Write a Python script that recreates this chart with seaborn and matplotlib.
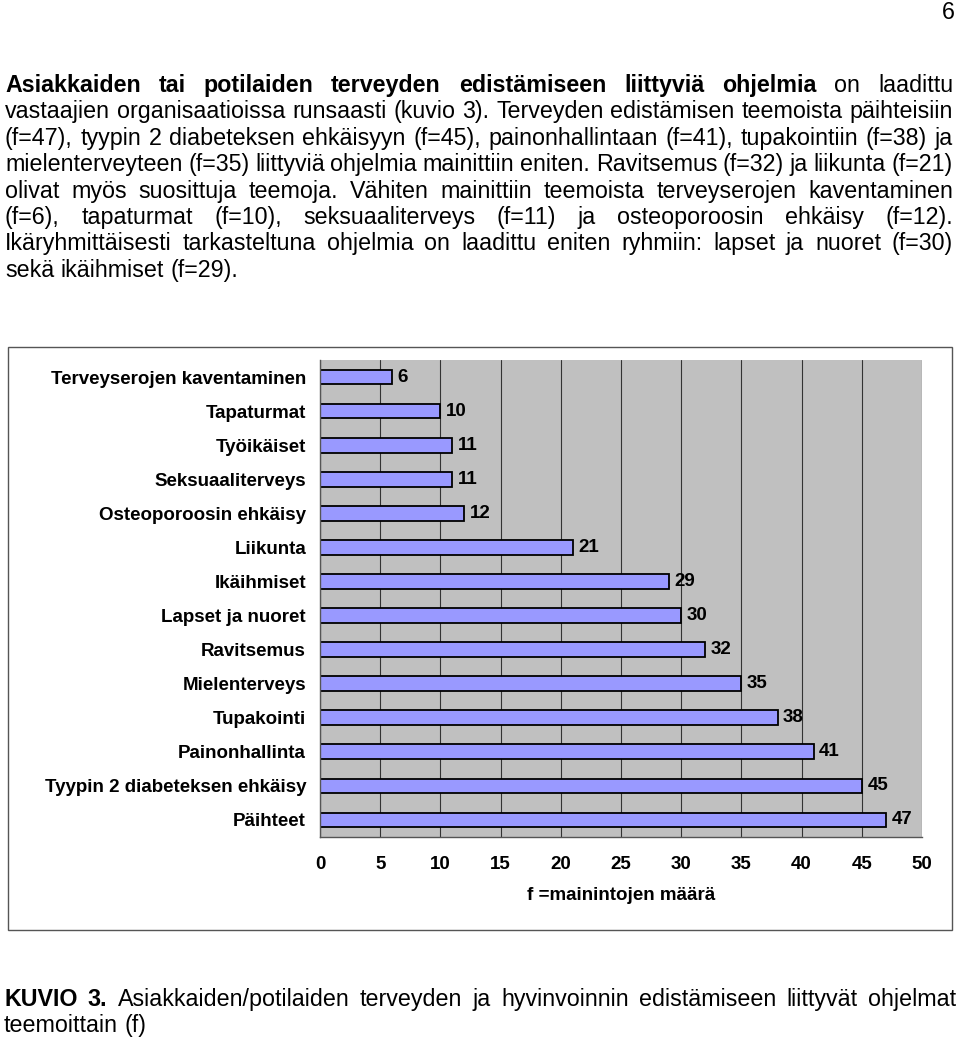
import matplotlib
matplotlib.use("Agg")
import matplotlib.pyplot as plt
import seaborn as sns
import pandas as pd
from matplotlib.patches import Rectangle
from matplotlib.ticker import MultipleLocator

# Chart data (order top -> bottom as in the figure)
themes = [
    "Terveyserojen kaventaminen", "Tapaturmat", "Työikäiset", "Seksuaaliterveys",
    "Osteoporoosin ehkäisy", "Liikunta", "Ikäihmiset", "Lapset ja nuoret",
    "Ravitsemus", "Mielenterveys", "Tupakointi", "Painonhallinta",
    "Tyypin 2 diabeteksen ehkäisy", "Päihteet",
]
counts = [6, 10, 11, 11, 12, 21, 29, 30, 32, 35, 38, 41, 45, 47]
x_ticks = [0, 5, 10, 15, 20, 25, 30, 35, 40, 45, 50]
x_label = "f =mainintojen määrä"

# Page text, line by line; (words, bold)
paragraph_lines = [
    [("Asiakkaiden tai potilaiden terveyden edistämiseen liittyviä ohjelmia", True),
     ("on laadittu", False)],
    [("vastaajien organisaatioissa runsaasti (kuvio 3). Terveyden edistämisen teemoista päihteisiin", False)],
    [("(f=47), tyypin 2 diabeteksen ehkäisyyn (f=45), painonhallintaan (f=41), tupakointiin (f=38) ja", False)],
    [("mielenterveyteen (f=35) liittyviä ohjelmia mainittiin eniten. Ravitsemus (f=32) ja liikunta (f=21)", False)],
    [("olivat myös suosittuja teemoja. Vähiten mainittiin teemoista terveyserojen kaventaminen", False)],
    [("(f=6), tapaturmat (f=10), seksuaaliterveys (f=11) ja osteoporoosin ehkäisy (f=12).", False)],
    [("Ikäryhmittäisesti tarkasteltuna ohjelmia on laadittu eniten ryhmiin: lapset ja nuoret (f=30)", False)],
    [("sekä ikäihmiset (f=29).", False)],
]
caption_lines = [
    [("KUVIO 3.", True),
     ("Asiakkaiden/potilaiden terveyden ja hyvinvoinnin edistämiseen liittyvät ohjelmat", False)],
    [("teemoittain (f)", False)],
]
page_number = "6"

W, H = 960, 1041
sns.set_style("white")
plt.rcParams['font.family'] = ['Liberation Sans', 'DejaVu Sans']
plt.rcParams['text.color'] = 'black'
plt.rcParams['axes.labelcolor'] = 'black'
plt.rcParams['xtick.labelcolor'] = 'black'
plt.rcParams['ytick.labelcolor'] = 'black'

fig = plt.figure(figsize=(W / 100, H / 100), dpi=100)
renderer = fig.canvas.get_renderer()


def px(x, y):
    return x / W, 1 - y / H


def text_width(s, size, bold=False):
    t = fig.text(0, 0, s, fontsize=size, fontweight='bold' if bold else 'normal')
    w = t.get_window_extent(renderer).width
    t.remove()
    return w


# fit body font so that a normally spaced line fills the text column
ref_line = paragraph_lines[1][0][0]
body_size = 10 * (948 - 4) / text_width(ref_line, 10)


def justified_line(segments, baseline, left=5, right=953, justify=True, size=body_size):
    words = []
    for text, bold in segments:
        for w in text.split():
            words.append((w, bold))
    items = []
    for w, bold in words:
        t = fig.text(0, 0, w, fontsize=size, fontweight='bold' if bold else 'normal',
                     va='baseline', ha='left')
        items.append((t, t.get_window_extent(renderer).width))
    space = text_width("a a", size) - text_width("aa", size)
    total = sum(w for _, w in items)
    if justify and len(items) > 1:
        gap = max(space * 0.6, (right - left - total) / (len(items) - 1))
    else:
        gap = space
    x = left
    for t, width in items:
        t.set_position(px(x, baseline))
        x += width + gap


for i, line in enumerate(paragraph_lines):
    justified_line(line, 92 + i * 26.4, justify=(i < len(paragraph_lines) - 1))
for i, line in enumerate(caption_lines):
    justified_line(line, 1006 + i * 26, left=4, right=956,
                   justify=(i < len(caption_lines) - 1))

fig.text(*px(955, 19), page_number, fontsize=body_size, ha='right', va='baseline')

# Chart box
fig.patches.append(Rectangle(px(8, 930), (952 - 8) / W, (930 - 347) / H,
                             transform=fig.transFigure, fill=False,
                             edgecolor='#555555', linewidth=1.0))

df = pd.DataFrame({"theme": themes, "f": counts})
ax = fig.add_axes([320 / W, 1 - 837 / H, (922 - 320) / W, (837 - 360) / H])
ax.set_facecolor('#c0c0c0')
sns.barplot(data=df, x="f", y="theme", orient='h', color='#9999ff',
            edgecolor='black', linewidth=1.3, width=0.43, saturation=1, ax=ax)

label_size = 13.5
ax.set_xlim(0, 50)
ax.set_xticks(x_ticks)
ax.set_xticklabels([str(v) for v in x_ticks], fontsize=label_size, fontweight='bold')
ax.xaxis.grid(True, color='#333333', linewidth=0.8)
ax.set_axisbelow(True)
ax.tick_params(axis='x', direction='out', length=6, width=0.8, color='#333333', pad=8)

ax.set_yticks(range(len(themes)))
ax.set_yticklabels(themes, fontsize=label_size, fontweight='bold')
ax.yaxis.set_minor_locator(MultipleLocator(1, offset=0.5))
ax.tick_params(axis='y', which='major', length=0, pad=10)
ax.tick_params(axis='y', which='minor', direction='in', length=5, width=0.8, color='#555555')
ax.set_ylim(len(themes) - 0.5, -0.5)

for side in ['top', 'right']:
    ax.spines[side].set_visible(False)
for side in ['left', 'bottom']:
    ax.spines[side].set_color('#555555')
    ax.spines[side].set_linewidth(1.0)

ax.set_ylabel("")
ax.set_xlabel(x_label, fontsize=label_size, fontweight='bold', labelpad=10)

for container in ax.containers:
    ax.bar_label(container, padding=4, fontsize=label_size, fontweight='bold')

fig.savefig("out.png", dpi=100, facecolor='white')
